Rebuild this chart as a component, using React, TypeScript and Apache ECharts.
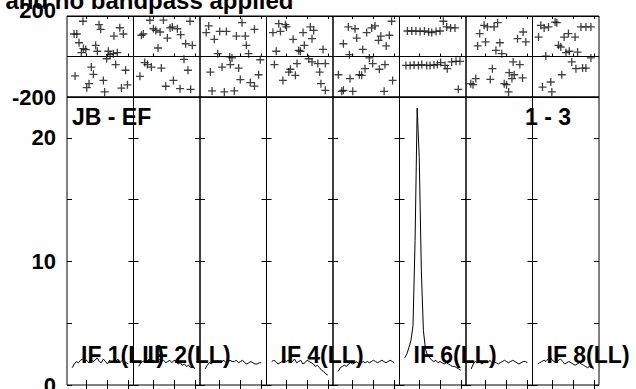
import React, { useEffect, useRef } from 'react';
import * as echarts from 'echarts';

// ---------- data ----------
const CHANNEL_MIN = 0.5;
const CHANNEL_MAX = 32.5;
const CHANNEL_TICKS = [10, 20, 30];

const PHASE_MIN = -200;
const PHASE_MAX = 200;
const PHASE_STEP = 200;
const PHASE_LABELS = [-200, 200];

const AMP_MIN = 0;
const AMP_MAX = 23.3;
const AMP_STEP = 5;
const AMP_TICKS = [0, 5, 10, 15, 20];
const AMP_LABELS = [0, 10, 20];

const TITLE = 'Calibration table applied and no bandpass applied';
const BASELINE_LABEL = 'JB - EF';
const RANGE_LABEL = '1 - 3';
const IF_LABELS = ['IF 1(LL)', 'IF 2(LL)', 'IF 4(LL)', 'IF 6(LL)', 'IF 8(LL)'];
const IF_LABEL_COLUMNS = [0, 1, 3, 5, 7];

const PHASE_IF1 = [[8.2,174],[15.9,157],[16.7,134],[25.9,142],[3.9,111],[5.2,111],[23.1,101],[27.6,111],[6.3,68],[14.3,55],[8.4,39],[9.5,34],[15.1,26],[7.4,19],[20.4,26],[22.8,14],[24.7,19],[21.2,9],[19.6,-11],[23.9,-40],[12.2,-52],[28.7,-68],[13.2,-88],[4.4,-96],[18.0,-118],[29.6,-140],[11.1,-134],[10.0,-154],[18.6,-175],[26.7,-156]];
const PHASE_IF2 = [[8.4,179],[14.9,180],[27.7,174],[10.1,137],[11.2,129],[13.3,121],[18.1,141],[19.2,146],[21.6,137],[23.2,108],[16.8,91],[4.3,105],[5.2,111],[25.6,63],[28.8,55],[12.3,42],[24.8,-14],[5.9,-30],[7.2,-40],[9.1,-52],[13.9,-57],[26.7,-68],[3.6,-98],[19.7,-118],[16.0,-147],[22.9,-159],[28.0,-162]];
const PHASE_IF3 = [[4.7,151],[3.5,118],[10.0,124],[13.2,124],[20.7,167],[26.7,134],[7.4,85],[18.0,101],[22.3,101],[22.8,55],[9.0,14],[23.9,14],[14.8,-2],[15.9,-7],[29.5,-16],[15.1,-40],[11.1,-52],[19.1,-57],[5.5,-77],[28.7,-90],[19.9,-114],[24.7,-129],[26.7,-146],[6.3,-170],[12.2,-175],[17.0,-170]];
const PHASE_IF4 = [[6.4,162],[9.6,157],[3.6,118],[7.2,124],[10.1,146],[21.6,146],[23.2,129],[18.1,118],[13.3,85],[22.4,88],[18.7,55],[16.0,30],[16.8,26],[5.2,26],[27.7,35],[20.8,-11],[4.3,-40],[15.2,-35],[22.4,-27],[25.2,-35],[28.8,-35],[12.0,-63],[11.2,-77],[14.4,-93],[26.1,-77],[8.4,-118],[26.7,-134],[28.8,-167]];
const PHASE_IF5 = [[7.9,146],[11.1,137],[19.1,141],[20.7,151],[28.7,174],[16.7,118],[11.9,91],[22.4,80],[23.5,101],[27.6,105],[5.5,63],[26.1,52],[14.8,35],[8.4,9],[18.0,-7],[19.6,-35],[22.8,-63],[25.5,-40],[3.1,-90],[8.7,-109],[13.2,-90],[14.3,-93],[15.9,-60],[29.2,-118],[4.7,-172],[5.5,-167],[10.0,-172],[25.1,-172]];
const PHASE_IF6 = [[4.3,126],[6.4,126],[8.4,126],[10.4,124],[12.5,126],[14.5,121],[16.0,118],[18.1,124],[20.0,126],[21.6,174],[23.2,146],[25.1,141],[27.2,141],[3.6,-44],[5.6,-44],[7.5,-42],[9.6,-44],[11.2,-40],[13.6,-44],[15.2,-44],[17.1,-42],[18.7,-40],[20.3,-30],[22.4,-44],[23.5,-60],[25.6,-27],[27.7,-24],[29.6,-24],[28.8,-162]];
const PHASE_IF7 = [[9.2,154],[10.8,146],[14.0,146],[15.7,167],[7.1,113],[9.9,72],[6.1,52],[16.8,68],[14.9,30],[17.7,14],[28.0,121],[25.3,88],[29.3,72],[23.2,-27],[26.4,-40],[13.2,-60],[21.3,-80],[23.7,-90],[27.7,-106],[12.2,-113],[5.2,-109],[2.8,-134],[3.9,-139],[18.9,-134],[20.0,-139],[22.6,-109],[21.0,-175]];
const PHASE_IF8 = [[4.5,154],[6.1,141],[8.2,146],[11.4,170],[12.2,167],[3.4,96],[15.7,96],[17.8,113],[21.0,96],[23.8,146],[26.2,146],[28.6,146],[13.0,55],[14.1,47],[18.2,26],[16.6,19],[22.2,22],[6.9,2],[28.6,-7],[19.4,-27],[21.4,-60],[24.6,-57],[26.2,-57],[14.6,-90],[9.3,-126],[5.3,-151],[9.8,-175]];

const AMP_CHANNELS = [3,4,5,6,7,8,9,10,11,12,13,14,15,16,17,18,19,20,21,22,23,24,25,26,27,28,29,30];
const AMP_IF1 = [1.4,1.7,1.9,1.8,2.0,2.1,1.9,2.0,1.8,2.1,1.9,2.0,2.2,1.9,1.8,2.1,1.9,1.7,2.0,1.8,2.0,1.9,2.1,1.8,2.0,1.9,1.8,1.7];
const AMP_IF2 = [1.5,1.8,1.9,2.0,1.8,2.1,1.9,2.0,1.8,1.9,2.1,1.9,2.0,1.8,1.9,2.0,1.8,2.0,1.9,1.7,1.8,1.6,1.7,1.5,1.6,1.4,1.5,1.3];
const AMP_IF3 = [1.3,1.6,1.8,1.7,1.9,1.8,2.0,1.8,1.9,2.0,1.8,1.9,2.0,1.9,1.9,2.0,1.8,1.9,2.0,1.8,1.7,1.8,1.9,1.8,1.7,1.7,1.8,1.8];
const AMP_IF4 = [1.9,2.0,1.9,1.7,1.8,1.9,2.0,1.9,2.0,1.8,1.9,2.1,1.8,1.9,2.0,1.7,1.8,2.0,1.9,1.8,1.7,1.5,1.6,1.4,1.2,1.1,0.9,0.8];
const AMP_IF5 = [1.1,1.4,1.5,1.6,1.5,1.7,1.8,1.7,1.8,1.9,1.7,1.8,1.9,1.8,1.9,1.8,1.9,2.0,1.9,1.8,1.9,2.0,1.9,1.8,1.9,2.0,1.9,1.8];
const AMP_IF6 = [2.2,2.5,3.0,3.6,4.8,11.7,22.4,18.4,9.3,4.4,2.9,2.4,2.2,2.0,1.9,2.0,1.8,1.9,1.8,1.7,1.8,1.7,1.6,1.5,1.5,1.4,1.3,1.2];
const AMP_IF7 = [1.3,1.7,1.9,1.8,1.9,1.7,1.8,1.9,1.8,2.0,1.8,1.9,1.8,1.7,1.8,1.9,2.0,1.9,1.8,1.9,2.0,1.9,1.8,1.7,1.8,1.9,1.9,1.8];
const AMP_IF8 = [1.7,1.8,1.9,2.0,1.9,2.1,2.3,2.0,1.9,1.8,2.0,2.1,1.9,1.7,1.8,1.9,1.8,1.7,1.6,1.7,1.8,1.7,1.6,1.5,1.4,1.5,1.4,1.3];

const PHASES = [PHASE_IF1, PHASE_IF2, PHASE_IF3, PHASE_IF4, PHASE_IF5, PHASE_IF6, PHASE_IF7, PHASE_IF8];
const AMPS = [AMP_IF1, AMP_IF2, AMP_IF3, AMP_IF4, AMP_IF5, AMP_IF6, AMP_IF7, AMP_IF8];

// ---------- layout ----------
const LEFT = 67;
const COL_W = 66.5;
const PH_TOP = 16;
const PH_H = 81;
const AMP_TOP = 97;
const AMP_H = 288;
const FONT = '"Liberation Sans", Arial, Helvetica, sans-serif';
const CROSS = 'path://M0,3.35H8V4.65H0Z M3.35,0H4.65V8H3.35Z';

function buildOption() {
  const grids: any[] = [];
  const xAxes: any[] = [];
  const yAxes: any[] = [];
  const series: any[] = [];

  const xAx = (g: number, pos: string, len: number) => ({
    gridIndex: g, type: 'value', position: pos, min: CHANNEL_MIN, max: CHANNEL_MAX,
    axisLine: { show: false },
    axisTick: { show: true, inside: true, length: len, customValues: CHANNEL_TICKS, lineStyle: { color: '#000', width: 1 } },
    axisLabel: { show: false }, splitLine: { show: false },
  });

  for (let i = 0; i < 8; i++) {
    const left = LEFT + i * COL_W;
    // phase grid
    const gp = grids.length;
    grids.push({ left, top: PH_TOP, width: COL_W, height: PH_H, show: true, borderColor: '#000', borderWidth: 1, containLabel: false, outerBoundsMode: 'none' });
    const xp = xAxes.length;
    xAxes.push(xAx(gp, 'bottom', 3));
    xAxes.push(xAx(gp, 'top', 3));
    const yp = yAxes.length;
    yAxes.push({
      gridIndex: gp, type: 'value', min: PHASE_MIN, max: PHASE_MAX, interval: PHASE_STEP,
      axisLine: { show: false }, axisTick: { show: false },
      splitLine: { show: true, lineStyle: { color: '#000', width: 1 } },
      axisLabel: {
        show: i === 0, customValues: PHASE_LABELS, margin: 11,
        color: '#000', fontFamily: FONT, fontWeight: 'bold', fontSize: 22,
        formatter: (v: number) => (v === PHASE_MAX ? `{up|${v}}` : v === 0 ? '' : `${v}`),
        rich: { up: { padding: [0, 0, 11, 0], color: '#000', fontFamily: FONT, fontWeight: 'bold', fontSize: 22 } },
      },
    });
    series.push({
      type: 'scatter', xAxisIndex: xp, yAxisIndex: yp, data: PHASES[i],
      symbol: CROSS, symbolSize: 8, itemStyle: { color: '#111' }, silent: true,
    });

    // amplitude grid
    const ga = grids.length;
    grids.push({ left, top: AMP_TOP, width: COL_W, height: AMP_H, show: true, borderColor: '#000', borderWidth: 1, containLabel: false, outerBoundsMode: 'none' });
    const xa = xAxes.length;
    xAxes.push(xAx(ga, 'bottom', 5));
    xAxes.push(xAx(ga, 'top', 5));
    const ya = yAxes.length;
    const yAmp = (pos: string, labels: boolean) => ({
      gridIndex: ga, type: 'value', position: pos, min: AMP_MIN, max: AMP_MAX, interval: AMP_STEP,
      axisLine: { show: false },
      axisTick: { show: true, inside: true, length: 5, customValues: AMP_TICKS, lineStyle: { color: '#000', width: 1 } },
      splitLine: { show: false },
      axisLabel: {
        show: labels, customValues: AMP_LABELS, margin: 11,
        color: '#000', fontFamily: FONT, fontWeight: 'bold', fontSize: 22,
        formatter: (v: number) => (v % 10 === 0 ? `${v}` : ''),
      },
    });
    yAxes.push(yAmp('left', i === 0));
    yAxes.push(yAmp('right', false));
    series.push({
      type: 'line', xAxisIndex: xa, yAxisIndex: ya,
      data: AMP_CHANNELS.map((c, k) => [c, AMPS[i][k]]),
      showSymbol: false, symbol: 'none', lineStyle: { color: '#000', width: 1 }, silent: true,
    });
  }

  const txt = (text: string, x: number, y: number, size: number, align = 'left') => ({
    type: 'text', x, y, z: 100, silent: true,
    style: {
      text, fill: '#000', font: `bold ${size}px ${FONT}`,
      align, verticalAlign: 'middle', textAlign: align, textVerticalAlign: 'middle',
    },
  });

  const graphic: any[] = [
    txt(TITLE, 293.5, 0.5, 24, 'right'),
    txt(BASELINE_LABEL, 72, 116.5, 23),
    txt(RANGE_LABEL, 525, 116.5, 23),
  ];
  IF_LABELS.forEach((t, k) => {
    graphic.push(txt(t, LEFT + IF_LABEL_COLUMNS[k] * COL_W + 14, 354.5, 23));
  });

  return {
    animation: false,
    backgroundColor: '#fff',
    grid: grids, xAxis: xAxes, yAxis: yAxes, series, graphic,
  };
}

export default function App() {
  const ref = useRef<HTMLDivElement>(null);
  useEffect(() => {
    if (!ref.current) return;
    const chart = echarts.init(ref.current, undefined, { renderer: 'svg' });
    chart.setOption(buildOption() as any);
    return () => chart.dispose();
  }, []);
  return <div ref={ref} style={{ position: 'fixed', left: 0, top: 0, width: 636, height: 389 }} />;
}
